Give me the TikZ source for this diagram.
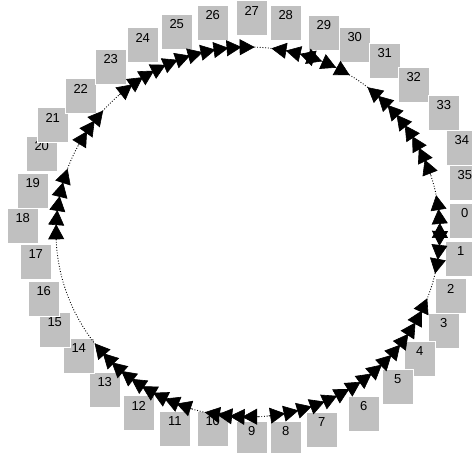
\documentclass[tikz,border=0pt]{standalone}
\usepackage{fontspec}
\setmainfont{Liberation Sans}
\usetikzlibrary{arrows.meta}
\definecolor{boxgray}{RGB}{192,192,192}
\tikzset{
  box/.style={draw=white, line width=0.5pt, fill=boxgray, minimum width=31pt, minimum height=35pt, inner sep=0pt, anchor=north west},
  lbl/.style={font=\fontsize{13pt}{13pt}\selectfont, inner sep=0pt, anchor=center, yshift=-10.5pt},
  arr/.style={-{Triangle[length=15pt,width=16pt]}, line width=0.6pt},
  ring/.style={dash pattern=on 0.9pt off 1.8pt, line width=0.9pt}
}
\newcommand{\bx}[4]{\node[box, label={[lbl]north:#4}] (b#1) at (#2,-#3) {};}
\newcommand{\arrowchain}[3]{%
  \pgfmathsetmacro{\stp}{(#1-(#2))/#3}%
  \pgfmathsetmacro{\sgn}{sign(\stp)}%
  \pgfmathtruncatemacro{\last}{#3-1}%
  \foreach \k in {0,...,\last}{%
    \pgfmathsetmacro{\th}{#1-\k*\stp}%
    \pgfmathsetmacro{\tb}{\th-\sgn*5}%
    \draw[arr] ({248+192*cos(\tb)},{-232+185*sin(\tb)}) -- ({248+192*cos(\th)},{-232+185*sin(\th)});
  }%
}
\begin{document}
\begin{tikzpicture}[x=1pt,y=1pt]
\useasboundingbox (0,0) rectangle (472,-453);
\clip (0,0) rectangle (472,-453);
\bx{0}{449}{203}{0}
\bx{1}{445}{241}{1}
\bx{2}{435}{278}{2}
\bx{3}{428}{313}{3}
\bx{4}{404}{341}{4}
\bx{5}{382}{369}{5}
\bx{6}{348}{396}{6}
\bx{7}{306}{412}{7}
\bx{8}{270}{421}{8}
\bx{9}{236}{421}{9}
\bx{10}{197}{411}{10}
\bx{11}{159}{411}{11}
\bx{12}{123}{395}{12}
\bx{13}{89}{372}{13}
\bx{14}{63}{338}{14}
\bx{15}{39}{312}{15}
\bx{16}{28}{281}{16}
\bx{17}{20}{244}{17}
\bx{18}{7}{208}{18}
\bx{19}{17}{173}{19}
\bx{20}{26}{136}{20}
\bx{21}{37}{107}{21}
\bx{22}{65}{78}{22}
\bx{23}{95}{49}{23}
\bx{24}{127}{27}{24}
\bx{25}{161}{14}{25}
\bx{26}{197}{5}{26}
\bx{27}{236}{0}{27}
\bx{28}{270}{5}{28}
\bx{29}{308}{15}{29}
\bx{30}{339}{27}{30}
\bx{31}{369}{43}{31}
\bx{32}{398}{67}{32}
\bx{33}{428}{95}{33}
\bx{34}{446}{130}{34}
\bx{35}{449}{165}{35}
\coordinate (O) at (248,-232);
\draw[ring] (O) ellipse [x radius=192pt, y radius=185pt];
\arrowchain{88}{131}{11}
\arrowchain{139}{151}{3}
\arrowchain{160}{182}{5}
\arrowchain{217}{252}{9}
\arrowchain{257}{272}{4}
\arrowchain{339}{277}{15}
\arrowchain{347}{360}{3}
\arrowchain{11.5}{-1.5}{3}
\arrowchain{51.5}{19}{8}
\arrowchain{58}{72}{3}
\arrowchain{83}{70}{3}
\end{tikzpicture}
\end{document}
